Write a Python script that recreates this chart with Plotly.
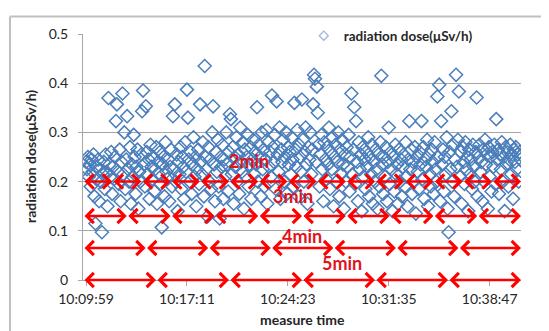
import plotly.graph_objects as go

# ---- data -------------------------------------------------------------
sample_step_s = 4  # seconds between readings (first reading at 10:09:59)
dose = [
    0.24,0.225,0.25,0.21,0.235,0.19,0.245,0.22,0.255,0.17,0.115,0.23,0.205,0.245,0.16,0.225,0.2,0.097,0.215,0.24,
    0.185,0.255,0.22,0.15,0.37,0.235,0.21,0.26,0.175,0.23,0.205,0.25,0.323,0.357,0.22,0.195,0.265,0.16,0.24,0.379,
    0.215,0.3,0.185,0.245,0.333,0.225,0.2,0.27,0.155,0.235,0.21,0.295,0.25,0.175,0.23,0.265,0.145,0.22,0.2,0.255,
    0.343,0.385,0.235,0.19,0.353,0.26,0.215,0.245,0.165,0.275,0.23,0.205,0.25,0.18,0.225,0.27,0.155,0.24,0.215,0.26,
    0.195,0.107,0.235,0.25,0.17,0.28,0.22,0.205,0.245,0.16,0.23,0.265,0.19,0.333,0.225,0.357,0.2,0.255,0.14,0.24,
    0.215,0.27,0.185,0.25,0.23,0.165,0.28,0.22,0.387,0.33,0.245,0.2,0.26,0.175,0.235,0.29,0.21,0.25,0.15,0.225,
    0.265,0.195,0.357,0.24,0.215,0.28,0.17,0.435,0.25,0.225,0.129,0.27,0.2,0.245,0.185,0.3,0.353,0.235,0.16,0.26,
    0.22,0.285,0.19,0.125,0.25,0.23,0.275,0.165,0.245,0.21,0.3,0.235,0.18,0.26,0.337,0.327,0.215,0.27,0.155,0.25,
    0.23,0.29,0.2,0.255,0.175,0.31,0.24,0.22,0.28,0.145,0.265,0.21,0.25,0.295,0.19,0.235,0.27,0.165,0.245,0.285,
    0.215,0.26,0.235,0.351,0.2,0.275,0.25,0.17,0.3,0.225,0.265,0.19,0.245,0.305,0.155,0.28,0.23,0.26,0.21,0.375,
    0.27,0.24,0.295,0.185,0.363,0.255,0.22,0.31,0.165,0.265,0.24,0.285,0.2,0.25,0.3,0.175,0.27,0.235,0.26,0.215,
    0.29,0.245,0.19,0.36,0.265,0.23,0.305,0.17,0.275,0.25,0.22,0.367,0.285,0.2,0.26,0.31,0.235,0.155,0.27,0.245,
    0.3,0.215,0.265,0.357,0.417,0.409,0.24,0.393,0.34,0.275,0.19,0.255,0.295,0.225,0.16,0.28,0.245,0.205,0.27,0.235,
    0.31,0.185,0.26,0.225,0.29,0.15,0.25,0.275,0.2,0.24,0.3,0.17,0.265,0.215,0.285,0.235,0.145,0.255,0.2,0.27,
    0.23,0.295,0.18,0.25,0.379,0.215,0.265,0.351,0.195,0.323,0.24,0.16,0.28,0.225,0.255,0.14,0.27,0.21,0.245,0.185,
    0.26,0.23,0.29,0.17,0.25,0.215,0.275,0.155,0.24,0.2,0.265,0.225,0.145,0.255,0.19,0.28,0.415,0.235,0.175,0.25,
    0.21,0.27,0.16,0.24,0.31,0.195,0.26,0.225,0.14,0.25,0.18,0.275,0.215,0.235,0.155,0.265,0.2,0.245,0.17,0.23,
    0.255,0.19,0.28,0.21,0.15,0.245,0.323,0.225,0.265,0.175,0.24,0.2,0.27,0.135,0.25,0.22,0.185,0.26,0.235,0.323,
    0.205,0.27,0.165,0.245,0.23,0.285,0.15,0.255,0.215,0.19,0.265,0.24,0.175,0.28,0.225,0.2,0.373,0.25,0.397,0.16,
    0.323,0.235,0.265,0.18,0.25,0.215,0.29,0.145,0.097,0.26,0.225,0.343,0.2,0.275,0.17,0.245,0.417,0.23,0.285,0.383,
    0.21,0.26,0.155,0.27,0.24,0.195,0.28,0.225,0.25,0.14,0.265,0.215,0.245,0.185,0.275,0.23,0.2,0.26,0.371,0.17,
    0.25,0.275,0.22,0.24,0.16,0.265,0.2,0.285,0.235,0.255,0.145,0.27,0.21,0.25,0.18,0.26,0.23,0.275,0.195,0.327,
    0.245,0.265,0.175,0.255,0.225,0.28,0.2,0.25,0.14,0.27,0.235,0.26,0.19,0.245,0.275,0.215,0.255,0.165,0.265,0.24,
    0.27,0.225,0.255,0.2,0.26,0.245,
]
elapsed_s = [i * sample_step_s for i in range(len(dose))]

tick_seconds = [0, 432, 864, 1296, 1728]
tick_labels = ["10:09:59", "10:17:11", "10:24:23", "10:31:35", "10:38:47"]
y_ticks = [0, 0.1, 0.2, 0.3, 0.4, 0.5]
y_tick_labels = ["0", "0.1", "0.2", "0.3", "0.4", "0.5"]

arrow_minutes = [2, 3, 4, 5]
arrow_counts = [15, 10, 7, 6]
arrow_levels = [0.2, 0.13, 0.065, 0.0]
label_texts = ["2min", "3min", "4min", "5min"]
label_x = [697, 885, 924, 1095]
label_y = [0.242, 0.171, 0.089, 0.034]

x_range = [-13, 1862]
y_range = [0, 0.5]

# ---- figure -----------------------------------------------------------
FONT = "Lato"
TXT = "#262626"
blue = "#4a7ebb"
red = "#ff0000"
grid = "#a6a6a6"

fig = go.Figure()
fig.add_trace(go.Scatter(
    x=elapsed_s, y=dose, mode="markers", showlegend=False,
    marker=dict(symbol="diamond-open", size=10, color=blue, line=dict(width=1.5, color=blue)),
))
# legend entry (smaller symbol as in the original legend)
fig.add_trace(go.Scatter(
    x=[None], y=[None], mode="markers", name="<b>radiation dose(μSv/h)</b>",
    marker=dict(symbol="diamond-open", size=7, color="#9db4d6", line=dict(width=1.2, color="#9db4d6")),
))

annotations = []
span = x_range[1] - x_range[0]
for lvl, n in zip(arrow_levels, arrow_counts):
    seg = span / n
    for k in range(n):
        a = x_range[0] + k * seg
        b = a + seg
        annotations.append(dict(
            x=b, y=lvl, ax=a, ay=lvl, xref="x", yref="y", axref="x", ayref="y",
            text="", showarrow=True, arrowhead=4, arrowside="end+start",
            arrowsize=1.1, arrowwidth=2.5, arrowcolor=red, standoff=0, startstandoff=0,
        ))
for t, lx, ly in zip(label_texts, label_x, label_y):
    annotations.append(dict(
        x=lx, y=ly, xref="x", yref="y", text=f"<b>{t}</b>", showarrow=False,
        xanchor="center", yanchor="middle",
        font=dict(family=FONT, size=18, color="#e0141c"),
    ))
# axis titles
annotations.append(dict(
    x=-0.121, y=0.5, xref="paper", yref="paper", text="<b>radiation dose(μSv/h)</b>",
    textangle=-90, showarrow=False, xanchor="center", yanchor="middle",
    font=dict(family=FONT, size=14, color=TXT),
))
annotations.append(dict(
    x=0.5, y=-0.159, xref="paper", yref="paper", text="<b>measure time</b>",
    showarrow=False, xanchor="center", yanchor="middle",
    font=dict(family=FONT, size=14, color=TXT),
))

# the page body adds an 8px offset, so the figure is 8px smaller than the window
fig.update_layout(
    width=541, height=323,
    margin=dict(l=75, r=28, t=20, b=51),
    paper_bgcolor="white", plot_bgcolor="white",
    font=dict(family=FONT, size=14, color=TXT),
    showlegend=True,
    legend=dict(x=0.504, y=1.055, xanchor="left", yanchor="top",
                bgcolor="rgba(255,255,255,0)", font=dict(family=FONT, size=13.5, color=TXT)),
    annotations=annotations,
    shapes=[
        dict(type="line", xref="paper", yref="paper", x0=-0.1667, x1=-0.1667, y0=-0.3, y1=1.0714,
             line=dict(color="#bfbfbf", width=2)),
        dict(type="line", xref="paper", yref="paper", x0=-0.1667, x1=1.1, y0=1.0714, y1=1.0714,
             line=dict(color="#bfbfbf", width=2)),
    ],
)
fig.update_xaxes(
    range=x_range, tickmode="array", tickvals=tick_seconds, ticktext=tick_labels,
    showgrid=False, showline=True, linecolor=grid, linewidth=1,
    ticks="outside", ticklen=5, tickcolor=grid, zeroline=False, ticklabelstandoff=1,
    tickfont=dict(family=FONT, size=14, color=TXT),
)
fig.update_yaxes(
    range=y_range, tickmode="array", tickvals=y_ticks, ticktext=y_tick_labels,
    showgrid=True, gridcolor=grid, gridwidth=1, showline=True, linecolor=grid, linewidth=1,
    ticks="outside", ticklen=4, tickcolor=grid, zeroline=False, ticklabelstandoff=7,
    tickfont=dict(family=FONT, size=14, color=TXT),
)

fig.write_html("out.html")
